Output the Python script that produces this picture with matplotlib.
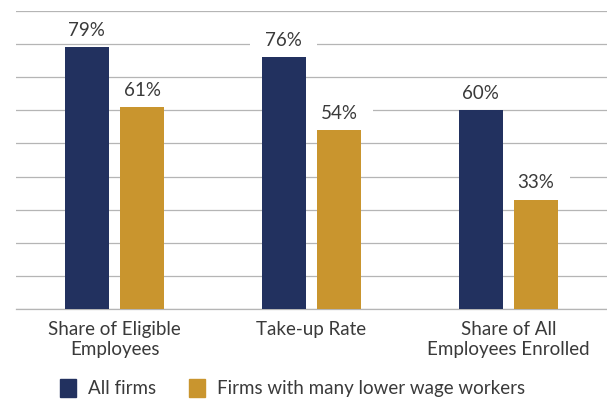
import numpy as np
import matplotlib.pyplot as plt
from matplotlib.patches import Patch

categories = ['Share of Eligible\nEmployees', 'Take-up Rate', 'Share of All\nEmployees Enrolled']
all_firms = [79, 76, 60]
low_wage_firms = [61, 54, 33]
series_names = ['All firms', 'Firms with many lower wage workers']

navy = '#22315f'
gold = '#c9952e'
text_col = '#3a3a3a'
fs = 13.5

plt.rcParams['font.family'] = ['Lato', 'DejaVu Sans']

fig = plt.figure(figsize=(6.07, 4.0), dpi=100)
ax = fig.add_axes([16 / 607, 91 / 400, 591 / 607, 298 / 400])

x = np.arange(len(categories))
w = 0.223
off = 0.14
b1 = ax.bar(x - off, all_firms, w, color=navy, zorder=3)
b2 = ax.bar(x + off, low_wage_firms, w, color=gold, zorder=3)

for bars, vals in ((b1, all_firms), (b2, low_wage_firms)):
    for rect, v in zip(bars, vals):
        t = ax.annotate(f'{v}%', (rect.get_x() + rect.get_width() / 2, v),
                        xytext=(0, 6), textcoords='offset points',
                        ha='center', va='bottom', fontsize=fs, color=text_col, zorder=2)
        t.set_bbox(dict(boxstyle='square,pad=0.8', facecolor='white', edgecolor='none',
                        mutation_aspect=0.2))

ax.set_xlim(-0.5, 2.5)
ax.set_ylim(0, 90)
ax.set_yticks(np.arange(0, 91, 10))
ax.yaxis.grid(True, color='#b5b5b5', linewidth=0.9, zorder=0)
ax.set_axisbelow(True)
ax.tick_params(axis='y', left=False, labelleft=False)
ax.tick_params(axis='x', bottom=False, pad=5)
ax.set_xticks(x)
ax.set_xticklabels(categories, fontsize=fs, color=text_col, linespacing=1.2)
for s in ['top', 'left', 'right']:
    ax.spines[s].set_visible(False)
ax.spines['bottom'].set_color('#b5b5b5')
ax.spines['bottom'].set_linewidth(0.9)

handles = [Patch(color=navy), Patch(color=gold)]
fig.legend(handles, series_names, loc='lower center', bbox_to_anchor=(0.482, -0.035),
           ncol=2, frameon=False, fontsize=fs, handlelength=0.85, handleheight=1.1,
           handletextpad=0.6, columnspacing=1.8, labelcolor=text_col)

fig.savefig('out.png', dpi=100)
